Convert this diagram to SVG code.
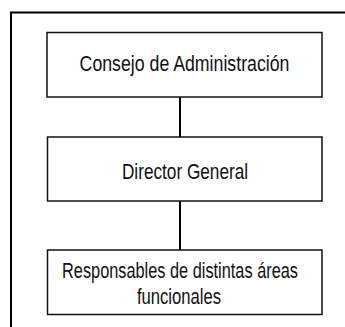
<svg xmlns="http://www.w3.org/2000/svg" width="345" height="327" viewBox="0 0 345 327">
<style>
.box{fill:#fff;stroke:#111;stroke-width:1.5}
.frame{fill:none;stroke:#000;stroke-width:2}
.conn{stroke:#000;stroke-width:2;fill:none}
text{font-family:"Liberation Sans",Arial,sans-serif;font-size:21.5px;fill:#111;text-anchor:middle}
</style>
<rect width="345" height="327" fill="#fff"/>
<path class="frame" d="M11 327 V12.5 H345"/>
<g id="connectors">
<line class="conn" x1="180" y1="97" x2="180" y2="137"/>
<line class="conn" x1="180" y1="201" x2="180" y2="250"/>
</g>
<g id="node-consejo">
<rect class="box" x="47" y="32.5" width="275" height="64.5"/>
<text transform="translate(184.5 71) scale(0.825 1)">Consejo de Administración</text>
</g>
<g id="node-director">
<rect class="box" x="47.5" y="137" width="274.5" height="64"/>
<text transform="translate(185 179) scale(0.8 1)">Director General</text>
</g>
<g id="node-responsables">
<rect class="box" x="47.5" y="250" width="274.5" height="64.5"/>
<text transform="translate(180 278) scale(0.76 1)">Responsables de distintas áreas</text>
<text transform="translate(179 304) scale(0.775 1)">funcionales</text>
</g>
</svg>
